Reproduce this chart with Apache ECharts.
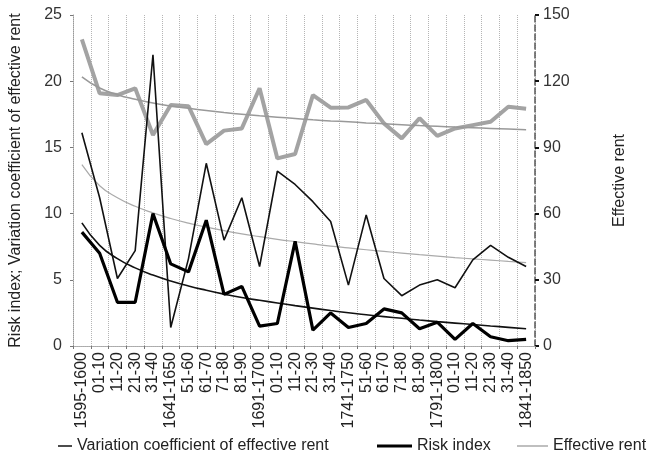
<!DOCTYPE html>
<html>
<head>
<meta charset="utf-8">
<script src="https://cdn.jsdelivr.net/npm/echarts@6/dist/echarts.min.js"></script>
<style>html,body{margin:0;padding:0;background:#fff;}#c{width:653px;height:460px;}</style>
</head>
<body>
<div id="c"></div>
<script>
var categories = ['1595-1600','01-10','11-20','21-30','31-40','1641-1650','51-60','61-70','71-80','81-90','1691-1700','01-10','11-20','21-30','31-40','1741-1750','51-60','61-70','71-80','81-90','1791-1800','01-10','11-20','21-30','31-40','1841-1850'];
var variationCoef = [16.1,11.2,5.1,7.2,22.0,1.4,6.6,13.8,8.0,11.2,6.0,13.2,12.2,10.9,9.4,4.6,9.9,5.1,3.8,4.6,5.0,4.4,6.5,7.6,6.7,6.0];
var riskIndex = [8.6,7.0,3.3,3.3,10.0,6.2,5.6,9.5,3.9,4.5,1.5,1.7,7.9,1.2,2.5,1.4,1.7,2.8,2.5,1.3,1.8,0.5,1.7,0.7,0.4,0.5];
var effectiveRent = [139,114.5,113.7,116.8,95.6,109.2,108.7,91.5,97.6,98.6,116.8,85.0,87.0,113.7,108.0,108.1,111.5,100.9,94.1,103.2,95.2,98.6,100.1,101.6,108.4,107.5];
var variationTrend = [13.7,12.1,11.2,10.55,10.05,9.63,9.28,8.98,8.71,8.47,8.26,8.06,7.88,7.71,7.55,7.41,7.27,7.14,7.02,6.9,6.79,6.68,6.58,6.49,6.39,6.3];
var riskTrend = [9.3,7.6,6.6,5.9,5.36,4.91,4.53,4.21,3.92,3.66,3.45,3.25,3.05,2.86,2.68,2.51,2.36,2.22,2.09,1.96,1.84,1.73,1.62,1.51,1.41,1.3];
var rentTrend = [122,116.9,113.9,111.8,110.1,108.8,107.7,106.7,105.8,105.0,104.3,103.7,103.1,102.5,102.0,101.6,101.1,100.7,100.3,99.9,99.6,99.2,98.9,98.6,98.3,98.0];
var leftTicks = [0,25,5];
var rightTicks = [0,150,30];

var FONT = 'Liberation Sans, Arial, sans-serif';
var chart = echarts.init(document.getElementById('c'));
function legendCfg(name, left, w, h, color) {
  return {
    data: [{name: name, icon: 'rect', itemStyle: {color: color}}],
    left: left, top: 433, itemWidth: w, itemHeight: h, itemGap: 6,
    selectedMode: false, padding: 5,
    textStyle: {fontFamily: FONT, fontSize: 16, color: '#222'}
  };
}
chart.setOption({
  animation: false,
  backgroundColor: '#fff',
  textStyle: {fontFamily: FONT},
  grid: {left: 68, right: 118, top: 15, bottom: 114, containLabel: false},
  legend: [
    legendCfg('Variation coefficient of effective rent', 53, 14, 1.5, '#111'),
    legendCfg('Risk index', 372, 35, 3, '#000'),
    legendCfg('Effective rent', 512, 31, 1.5, '#aaa')
  ],
  xAxis: [{
    type: 'category', data: categories, boundaryGap: true,
    axisLine: {show: true, lineStyle: {color: '#999', type: 'dotted'}},
    axisTick: {show: true, interval: 0, length: 3, lineStyle: {color: '#777'}},
    axisLabel: {interval: 0, rotate: 90, fontSize: 16, color: '#222', margin: 6, fontFamily: FONT},
    splitLine: {show: true, interval: 0, lineStyle: {color: '#b5b5b5', type: 'dotted', width: 1}}
  }, {
    type: 'category', data: categories, boundaryGap: true, position: 'top',
    axisLine: {show: true, lineStyle: {color: '#aaa', type: 'dotted'}},
    axisTick: {show: false}, axisLabel: {show: false}, splitLine: {show: false}
  }],
  yAxis: [{
    type: 'value', min: leftTicks[0], max: leftTicks[1], interval: leftTicks[2],
    position: 'left',
    name: 'Risk index; Variation coefficient of effective rent',
    nameLocation: 'middle', nameGap: 49, nameRotate: 90,
    nameTextStyle: {fontSize: 16, color: '#222', fontFamily: FONT},
    axisLine: {show: true, lineStyle: {color: '#999', type: 'dotted'}},
    axisTick: {show: true, length: 3, lineStyle: {color: '#777'}},
    axisLabel: {fontSize: 16, color: '#333', margin: 11, fontFamily: FONT},
    splitLine: {show: false}
  }, {
    type: 'value', min: rightTicks[0], max: rightTicks[1], interval: rightTicks[2],
    position: 'right',
    name: 'Effective rent',
    nameLocation: 'middle', nameGap: 77, nameRotate: 90,
    nameTextStyle: {fontSize: 16, color: '#222', fontFamily: FONT},
    axisLine: {show: true, lineStyle: {color: '#555', type: 'dashed', width: 1.5}},
    axisTick: {show: true, length: 4, lineStyle: {color: '#111', width: 2}},
    axisLabel: {fontSize: 16, color: '#333', margin: 8, fontFamily: FONT},
    splitLine: {show: false}
  }],
  series: [
    {name: 'Effective rent', type: 'line', yAxisIndex: 1, data: effectiveRent, symbol: 'none',
     lineStyle: {color: '#a3a3a3', width: 4}, itemStyle: {color: '#aaa'}, z: 2},
    {name: 'rent trend', type: 'line', yAxisIndex: 1, data: rentTrend, symbol: 'none', smooth: true,
     lineStyle: {color: '#999', width: 1.5}, z: 3},
    {name: 'Variation coefficient of effective rent', type: 'line', yAxisIndex: 0, data: variationCoef, symbol: 'none',
     lineStyle: {color: '#111', width: 1.6}, itemStyle: {color: '#111'}, z: 4},
    {name: 'variation trend', type: 'line', yAxisIndex: 0, data: variationTrend, symbol: 'none', smooth: true,
     lineStyle: {color: '#aaa', width: 1.2}, z: 3},
    {name: 'Risk index', type: 'line', yAxisIndex: 0, data: riskIndex, symbol: 'none',
     lineStyle: {color: '#000', width: 3.2}, itemStyle: {color: '#000'}, z: 5},
    {name: 'risk trend', type: 'line', yAxisIndex: 0, data: riskTrend, symbol: 'none', smooth: true,
     lineStyle: {color: '#111', width: 1.6}, z: 4}
  ]
});
</script>
</body>
</html>
